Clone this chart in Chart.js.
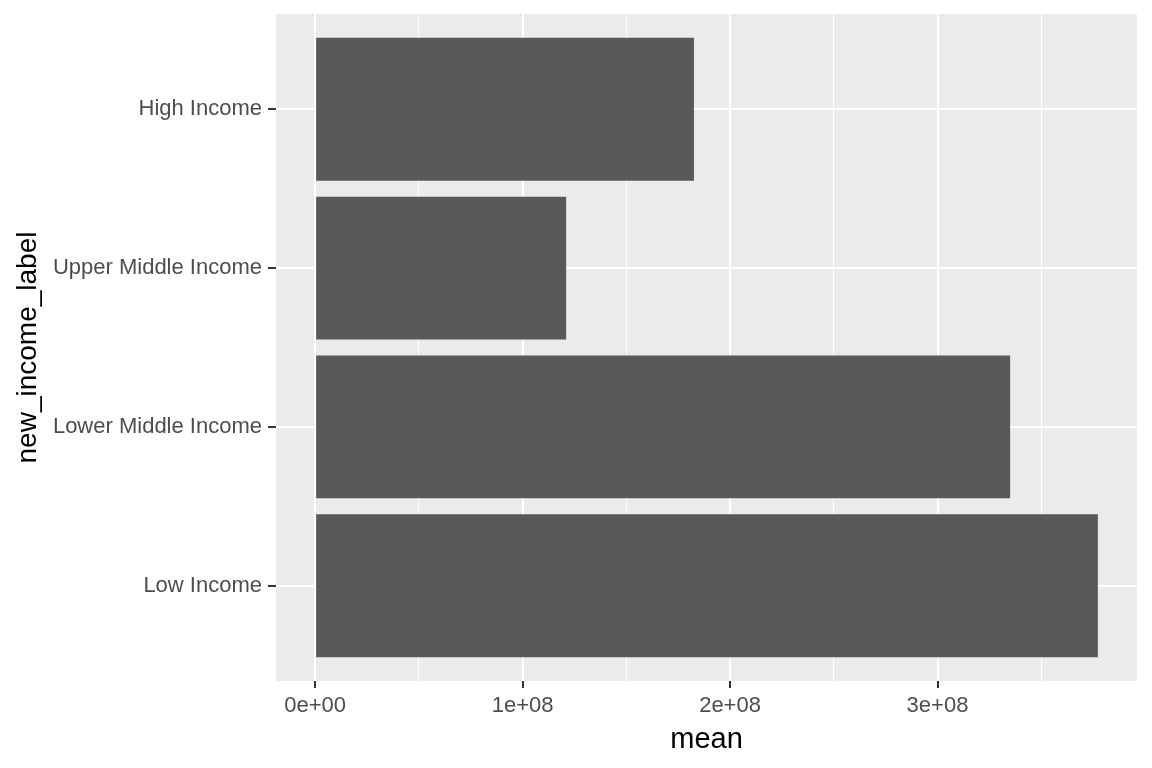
<!DOCTYPE html>
<html>
<head>
<meta charset="utf-8">
<script src="https://cdn.jsdelivr.net/npm/chart.js@4/dist/chart.umd.min.js"></script>
<style>
  html, body { margin: 0; padding: 0; background: #ffffff; }
  canvas { display: block; }
</style>
</head>
<body>
<canvas id="chartBar" width="1152" height="768"></canvas>
<script>
// categories from bottom to top (ggplot factor order)
const categories = ["Low Income", "Lower Middle Income", "Upper Middle Income", "High Income"];
const means = [3.773e8, 3.35e8, 1.21e8, 1.826e8];

const majorTicks = [0, 1e8, 2e8, 3e8];
const majorLabels = ["0e+00", "1e+08", "2e+08", "3e+08"];
const minorTicks = [0.5e8, 1.5e8, 2.5e8, 3.5e8];

const FONT = "'Liberation Sans', Arial, sans-serif";

// ggplot-style expansion: 5% on continuous, 0.6 on discrete
const maxVal = Math.max(...means);
const xMin = -0.05 * maxVal;
const xMax = maxVal * 1.05;

const panelBg = {
  id: "panelBg",
  beforeDraw(chart) {
    const { ctx, chartArea: a } = chart;
    ctx.save();
    ctx.fillStyle = "#ffffff";
    ctx.fillRect(0, 0, chart.width, chart.height);
    ctx.fillStyle = "#EBEBEB";
    ctx.fillRect(a.left, a.top, a.right - a.left, a.bottom - a.top);
    ctx.restore();
  }
};

const isMajor = (v) => majorTicks.includes(v);

const chartBar = new Chart(document.getElementById("chartBar"), {
  type: "bar",
  data: {
    datasets: [{
      label: "mean",
      data: categories.map((c, i) => ({ x: means[i], y: i + 1 })),
      backgroundColor: "#595959",
      borderWidth: 0,
      categoryPercentage: 1,
      barPercentage: 0.9
    }]
  },
  options: {
    indexAxis: "y",
    responsive: false,
    animation: false,
    devicePixelRatio: 1,
    layout: { padding: { top: 14, right: 15, left: 0, bottom: 0 } },
    plugins: { legend: { display: false }, tooltip: { enabled: false } },
    scales: {
      x: {
        type: "linear",
        min: xMin,
        max: xMax,
        afterBuildTicks: (scale) => {
          scale.ticks = majorTicks.concat(minorTicks).sort((a, b) => a - b).map(v => ({ value: v }));
        },
        afterFit: (scale) => {
          scale.height = 87;
          scale.paddingLeft = 0;
          scale.paddingRight = 0;
        },
        border: { display: false },
        grid: {
          color: "#ffffff",
          lineWidth: (c) => (c.tick && isMajor(c.tick.value)) ? 2 : 1,
          tickColor: (c) => (c.tick && isMajor(c.tick.value)) ? "#333333" : "rgba(0,0,0,0)",
          tickWidth: 2,
          tickLength: 7
        },
        ticks: {
          autoSkip: false,
          maxRotation: 0,
          padding: 5,
          color: "#4D4D4D",
          font: { family: FONT, size: 22 },
          callback: (v) => {
            const k = majorTicks.indexOf(v);
            return k >= 0 ? majorLabels[k] : "";
          }
        },
        title: {
          display: true,
          text: "mean",
          color: "#000000",
          font: { family: FONT, size: 29 },
          padding: { top: 0, bottom: 11 }
        }
      },
      y: {
        type: "linear",
        min: 0.4,
        max: categories.length + 0.6,
        offset: false,
        afterBuildTicks: (scale) => {
          scale.ticks = categories.map((c, i) => ({ value: i + 1 }));
        },
        afterFit: (scale) => {
          scale.width = 276;
          scale.paddingTop = 0;
          scale.paddingBottom = 0;
        },
        border: { display: false },
        grid: {
          offset: false,
          color: "#ffffff",
          lineWidth: 2,
          tickColor: "#333333",
          tickWidth: 2,
          tickLength: 8
        },
        ticks: {
          autoSkip: false,
          padding: 6,
          color: "#4D4D4D",
          font: { family: FONT, size: 22 },
          callback: (v) => categories[v - 1]
        },
        title: {
          display: true,
          text: "new_income_label",
          color: "#000000",
          font: { family: FONT, size: 28 },
          padding: { top: 11, bottom: 0 }
        }
      }
    }
  },
  plugins: [panelBg]
});
</script>
</body>
</html>
